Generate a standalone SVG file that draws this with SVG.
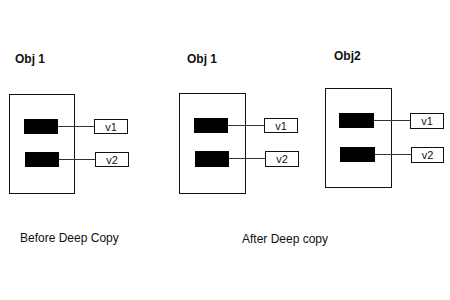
<svg xmlns="http://www.w3.org/2000/svg" width="450" height="300" viewBox="0 0 450 300">
<style>
.title{font-family:"Liberation Sans",Arial,sans-serif;font-size:12px;font-weight:bold;fill:#111}
.cap{font-family:"Liberation Sans",Arial,sans-serif;font-size:12px;fill:#111}
.val{font-family:"Liberation Sans",Arial,sans-serif;font-size:11px;fill:#111;text-anchor:middle}
.outer{fill:none;stroke:#111;stroke-width:1}
.slot{fill:#000}
.vbox{fill:#fff;stroke:#111;stroke-width:1}
.conn{stroke:#333;stroke-width:1;fill:none}
</style>
<rect width="450" height="300" fill="#fff"/>
<g id="labels">
<text class="title" x="15" y="63">Obj 1</text>
<text class="title" x="187" y="63">Obj 1</text>
<text class="title" x="334" y="60">Obj2</text>
<text class="cap" x="20" y="242">Before Deep Copy</text>
<text class="cap" x="242" y="243">After Deep copy</text>
</g>
<g id="obj1-before">
<rect class="outer" x="9.5" y="94.5" width="65" height="99"/>
<rect class="slot" x="24" y="119" width="34" height="15"/>
<rect class="slot" x="25" y="152" width="34" height="15"/>
</g>
<g id="v1-before">
<rect class="vbox" x="94.5" y="119.5" width="33" height="14"/>
<text class="val" x="111" y="131">v1</text>
</g>
<g id="v2-before">
<rect class="vbox" x="95.5" y="152.5" width="33" height="14"/>
<text class="val" x="112" y="164">v2</text>
</g>
<g id="obj1-after">
<rect class="outer" x="179.5" y="93.5" width="66" height="100"/>
<rect class="slot" x="194" y="118" width="34" height="15"/>
<rect class="slot" x="195" y="151" width="34" height="16"/>
</g>
<g id="v1-after">
<rect class="vbox" x="264.5" y="118.5" width="33" height="14"/>
<text class="val" x="281" y="130">v1</text>
</g>
<g id="v2-after">
<rect class="vbox" x="265.5" y="151.5" width="33" height="15"/>
<text class="val" x="282" y="163">v2</text>
</g>
<g id="obj2-after">
<rect class="outer" x="325.5" y="88.5" width="66" height="99"/>
<rect class="slot" x="339" y="113" width="35" height="15"/>
<rect class="slot" x="340" y="147" width="35" height="15"/>
</g>
<g id="v1-obj2">
<rect class="vbox" x="410.5" y="113.5" width="33" height="15"/>
<text class="val" x="427" y="125">v1</text>
</g>
<g id="v2-obj2">
<rect class="vbox" x="411.5" y="147.5" width="32" height="15"/>
<text class="val" x="427.5" y="159">v2</text>
</g>
<g id="connectors">
<line class="conn" x1="58" y1="126.5" x2="94" y2="126.5"/>
<line class="conn" x1="59" y1="159.5" x2="95" y2="159.5"/>
<line class="conn" x1="228" y1="125.5" x2="264" y2="125.5"/>
<line class="conn" x1="229" y1="158.5" x2="265" y2="158.5"/>
<line class="conn" x1="374" y1="120.5" x2="410" y2="120.5"/>
<line class="conn" x1="375" y1="154.5" x2="411" y2="154.5"/>
</g>
</svg>
